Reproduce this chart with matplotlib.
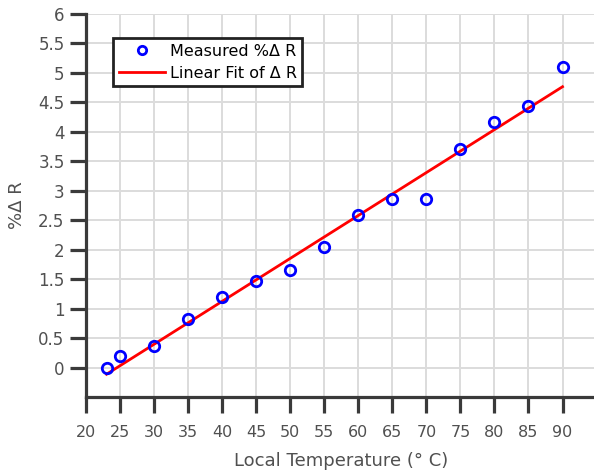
import matplotlib
matplotlib.use("Agg")
import matplotlib.pyplot as plt
import numpy as np

temps = [23, 25, 30, 35, 40, 45, 50, 55, 60, 65, 70, 75, 80, 85, 90]
delta_r = [0.0, 0.19, 0.36, 0.83, 1.20, 1.47, 1.66, 2.04, 2.59, 2.86, 2.86, 3.70, 4.16, 4.44, 5.09]
x_ticks = list(range(20, 95, 5))
y_ticks = [0, 0.5, 1, 1.5, 2, 2.5, 3, 3.5, 4, 4.5, 5, 5.5, 6]
y_tick_labels = ["0", "0.5", "1", "1.5", "2", "2.5", "3", "3.5", "4", "4.5", "5", "5.5", "6"]

plt.rcParams['font.family'] = ['DejaVu Sans']

fig = plt.figure(figsize=(5.94, 4.76), dpi=100)
ax = fig.add_axes([0.145, 0.166, 0.857, 0.805])

spine_col = '#3a3a3a'
text_col = '#505050'

# linear fit
coef = np.polyfit(temps, delta_r, 1)
fit_x = np.array([temps[0], temps[-1]])
fit_y = np.polyval(coef, fit_x)

ax.plot(temps, delta_r, 'o', mfc='none', mec='blue', mew=2, ms=7.5,
        label='Measured %Δ R', zorder=4)
ax.plot(fit_x, fit_y, color='red', lw=2, label='Linear Fit of Δ R', zorder=3)

ax.set_xlim(20, 94.8)
ax.set_ylim(-0.5, 6)
ax.set_xticks(x_ticks)
ax.set_yticks(y_ticks)
ax.set_yticklabels(y_tick_labels)
ax.grid(True, color='#dcdcdc', lw=1.4)
ax.set_axisbelow(True)

for side in ['top', 'right']:
    ax.spines[side].set_visible(False)
for side in ['left', 'bottom']:
    ax.spines[side].set_color(spine_col)
    ax.spines[side].set_linewidth(2.3)

ax.tick_params(axis='both', direction='out', length=11.5, width=2.3,
               color=spine_col, labelcolor=text_col)
ax.tick_params(axis='y', labelsize=12, pad=4)
ax.tick_params(axis='x', labelsize=11.5, pad=9)

ax.set_xlabel('Local Temperature (° C)', color=text_col, fontsize=13, labelpad=8)
ax.set_ylabel('%Δ R', color=text_col, fontsize=13, labelpad=9)

leg = ax.legend(loc='upper left', bbox_to_anchor=(0.053, 0.937), fontsize=11.5,
                fancybox=False, framealpha=1, edgecolor='#222222',
                borderpad=0.35, handlelength=2.9, handletextpad=0.3,
                labelspacing=0.45, borderaxespad=0, markerscale=0.8)
leg.get_frame().set_linewidth(2)

fig.savefig('out.png', dpi=100)
